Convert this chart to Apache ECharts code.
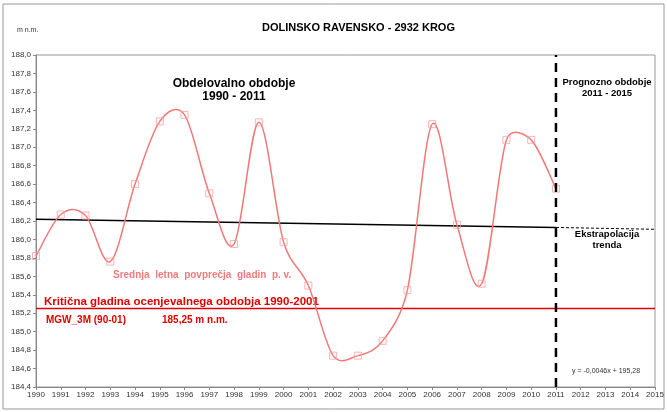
<!DOCTYPE html>
<html>
<head>
<meta charset="utf-8">
<script src="https://cdn.jsdelivr.net/npm/echarts@6/dist/echarts.min.js"></script>
<style>html,body{margin:0;padding:0;background:#fff}#c{width:667px;height:412px}</style>
</head>
<body>
<div id="c"></div>
<script>
var years = [1990,1991,1992,1993,1994,1995,1996,1997,1998,1999,2000,2001,2002,2003,2004,2005,2006,2007,2008,2009,2010,2011];
var levels = [185.82,186.27,186.26,185.76,186.60,187.28,187.35,186.50,185.95,187.27,185.97,185.50,184.74,184.74,184.90,185.45,187.25,186.16,185.52,187.08,187.08,186.55];
var trendYears = [1990, 2011];
var trendValues = [186.22, 186.13];
var extrapYears = [2011, 2015];
var extrapValues = [186.13, 186.11];
var criticalLevel = 185.25;
var criticalYears = [1990, 2015];
var dividerYear = 2011;
var yMin = 184.4, yMax = 188.0, yStep = 0.2;
var xMin = 1990, xMax = 2015;

function pairs(xs, ys){ return xs.map(function(x,i){ return [x, ys[i]]; }); }

var chart = echarts.init(document.getElementById('c'));
var F = "'Liberation Sans', Arial, sans-serif";

function dist(a, b){ return Math.sqrt((a[0]-b[0])*(a[0]-b[0]) + (a[1]-b[1])*(a[1]-b[1])); }
// Excel-like smoothing: Catmull-Rom tangent /6, limited to half the segment length
function ctrl(p, prev, next, segLen, sign) {
  var vx = (next[0] - prev[0]) / 6, vy = (next[1] - prev[1]) / 6;
  var len = Math.sqrt(vx*vx + vy*vy);
  var f = (len > segLen / 2 && len > 0) ? (segLen / 2) / len : 1;
  return [p[0] + sign * vx * f, p[1] + sign * vy * f];
}
function renderSegment(params, api) {
  var i = params.dataIndex;
  var n = years.length;
  if (i >= n - 1) return null;
  function pt(j){ j = Math.max(0, Math.min(n - 1, j)); return api.coord([years[j], levels[j]]); }
  var p0 = pt(i - 1), p1 = pt(i), p2 = pt(i + 1), p3 = pt(i + 2);
  var seg = dist(p1, p2);
  var c1 = ctrl(p1, p0, p2, seg, 1);
  var c2 = ctrl(p2, p1, p3, seg, -1);
  return {
    type: 'bezierCurve',
    shape: { x1: p1[0], y1: p1[1], x2: p2[0], y2: p2[1], cpx1: c1[0], cpy1: c1[1], cpx2: c2[0], cpy2: c2[1] },
    style: { stroke: '#f27878', lineWidth: 1.5, fill: null }
  };
}

chart.setOption({
  animation: false,
  backgroundColor: '#fff',
  grid: { left: 36, right: 12, top: 55, bottom: 25, show: true, borderColor: '#999', borderWidth: 1 },
  xAxis: {
    type: 'value', min: xMin, max: xMax, interval: 1,
    axisLine: { show: true, lineStyle: { color: '#888' } },
    axisTick: { show: true, length: 3, lineStyle: { color: '#888' } },
    axisLabel: { fontFamily: F, fontSize: 8, color: '#333', margin: 4, formatter: function(v){ return String(v); } },
    splitLine: { show: false }
  },
  yAxis: {
    type: 'value', min: yMin, max: yMax, interval: yStep,
    axisLine: { show: true, lineStyle: { color: '#888' } },
    axisTick: { show: true, length: 3, lineStyle: { color: '#888' } },
    axisLabel: { fontFamily: F, fontSize: 8, color: '#333', margin: 5, formatter: function(v){ return v.toFixed(1).replace('.', ','); } },
    splitLine: { show: false }
  },
  series: [
    { type: 'line', data: [[criticalYears[0], criticalLevel],[criticalYears[1], criticalLevel]], symbol: 'none', lineStyle: { color: '#e00000', width: 1.5 }, z: 2 },
    { type: 'line', data: pairs(trendYears, trendValues), symbol: 'none', lineStyle: { color: '#000', width: 1.5 }, z: 3 },
    { type: 'line', data: pairs(extrapYears, extrapValues), symbol: 'none', lineStyle: { color: '#000', width: 1, type: [3, 2] }, z: 3 },
    { type: 'line', data: [[dividerYear, yMin],[dividerYear, yMax]], symbol: 'none', lineStyle: { color: '#000', width: 2.5, type: [9, 6] }, z: 5 },
    { type: 'custom', name: 'Srednja letna povprečja gladin p. v.', data: pairs(years, levels), renderItem: renderSegment, clip: false, z: 4 },
    { type: 'scatter', data: pairs(years, levels), symbol: 'rect', symbolSize: 7,
      itemStyle: { color: 'rgba(255,255,255,0)', borderColor: '#f4a4a4', borderWidth: 1 }, z: 4 }
  ],
  graphic: [
    { type: 'rect', shape: { x: 3, y: 4, width: 661, height: 405 }, style: { fill: 'none', stroke: '#999', lineWidth: 1 }, z: -1 },
    { type: 'text', left: 262, top: 22, style: { text: 'DOLINSKO RAVENSKO - 2932 KROG', font: "bold 11px " + F, fill: '#000' } },
    { type: 'text', left: 17, top: 27, style: { text: 'm n.m.', font: "7px " + F, fill: '#333' } },
    { type: 'text', x: 234, y: 77, style: { text: 'Obdelovalno obdobje\n1990 - 2011', font: "bold 12px " + F, fill: '#000', align: 'center', lineHeight: 13 } },
    { type: 'text', x: 607, y: 77, style: { text: 'Prognozno obdobje\n2011 - 2015', font: "bold 9.5px " + F, fill: '#000', align: 'center', lineHeight: 11 } },
    { type: 'text', x: 607, y: 229, style: { text: 'Ekstrapolacija\ntrenda', font: "bold 9.5px " + F, fill: '#000', align: 'center', lineHeight: 11 } },
    { type: 'text', x: 113, y: 270, style: { text: 'Srednja  letna  povprečja  gladin  p. v.', font: "bold 10px " + F, fill: '#f07a7a' } },
    { type: 'text', x: 44, y: 296, style: { text: 'Kritična gladina ocenjevalnega obdobja 1990-2001', font: "bold 11.5px " + F, fill: '#e00000' } },
    { type: 'text', x: 46, y: 315, style: { text: 'MGW_3M (90-01)', font: "bold 10px " + F, fill: '#e00000' } },
    { type: 'text', x: 162, y: 315, style: { text: '185,25 m n.m.', font: "bold 10px " + F, fill: '#e00000' } },
    { type: 'text', x: 572, y: 368, style: { text: 'y = -0,0046x + 195,28', font: "7px " + F, fill: '#333' } }
  ]
});
</script>
</body>
</html>
